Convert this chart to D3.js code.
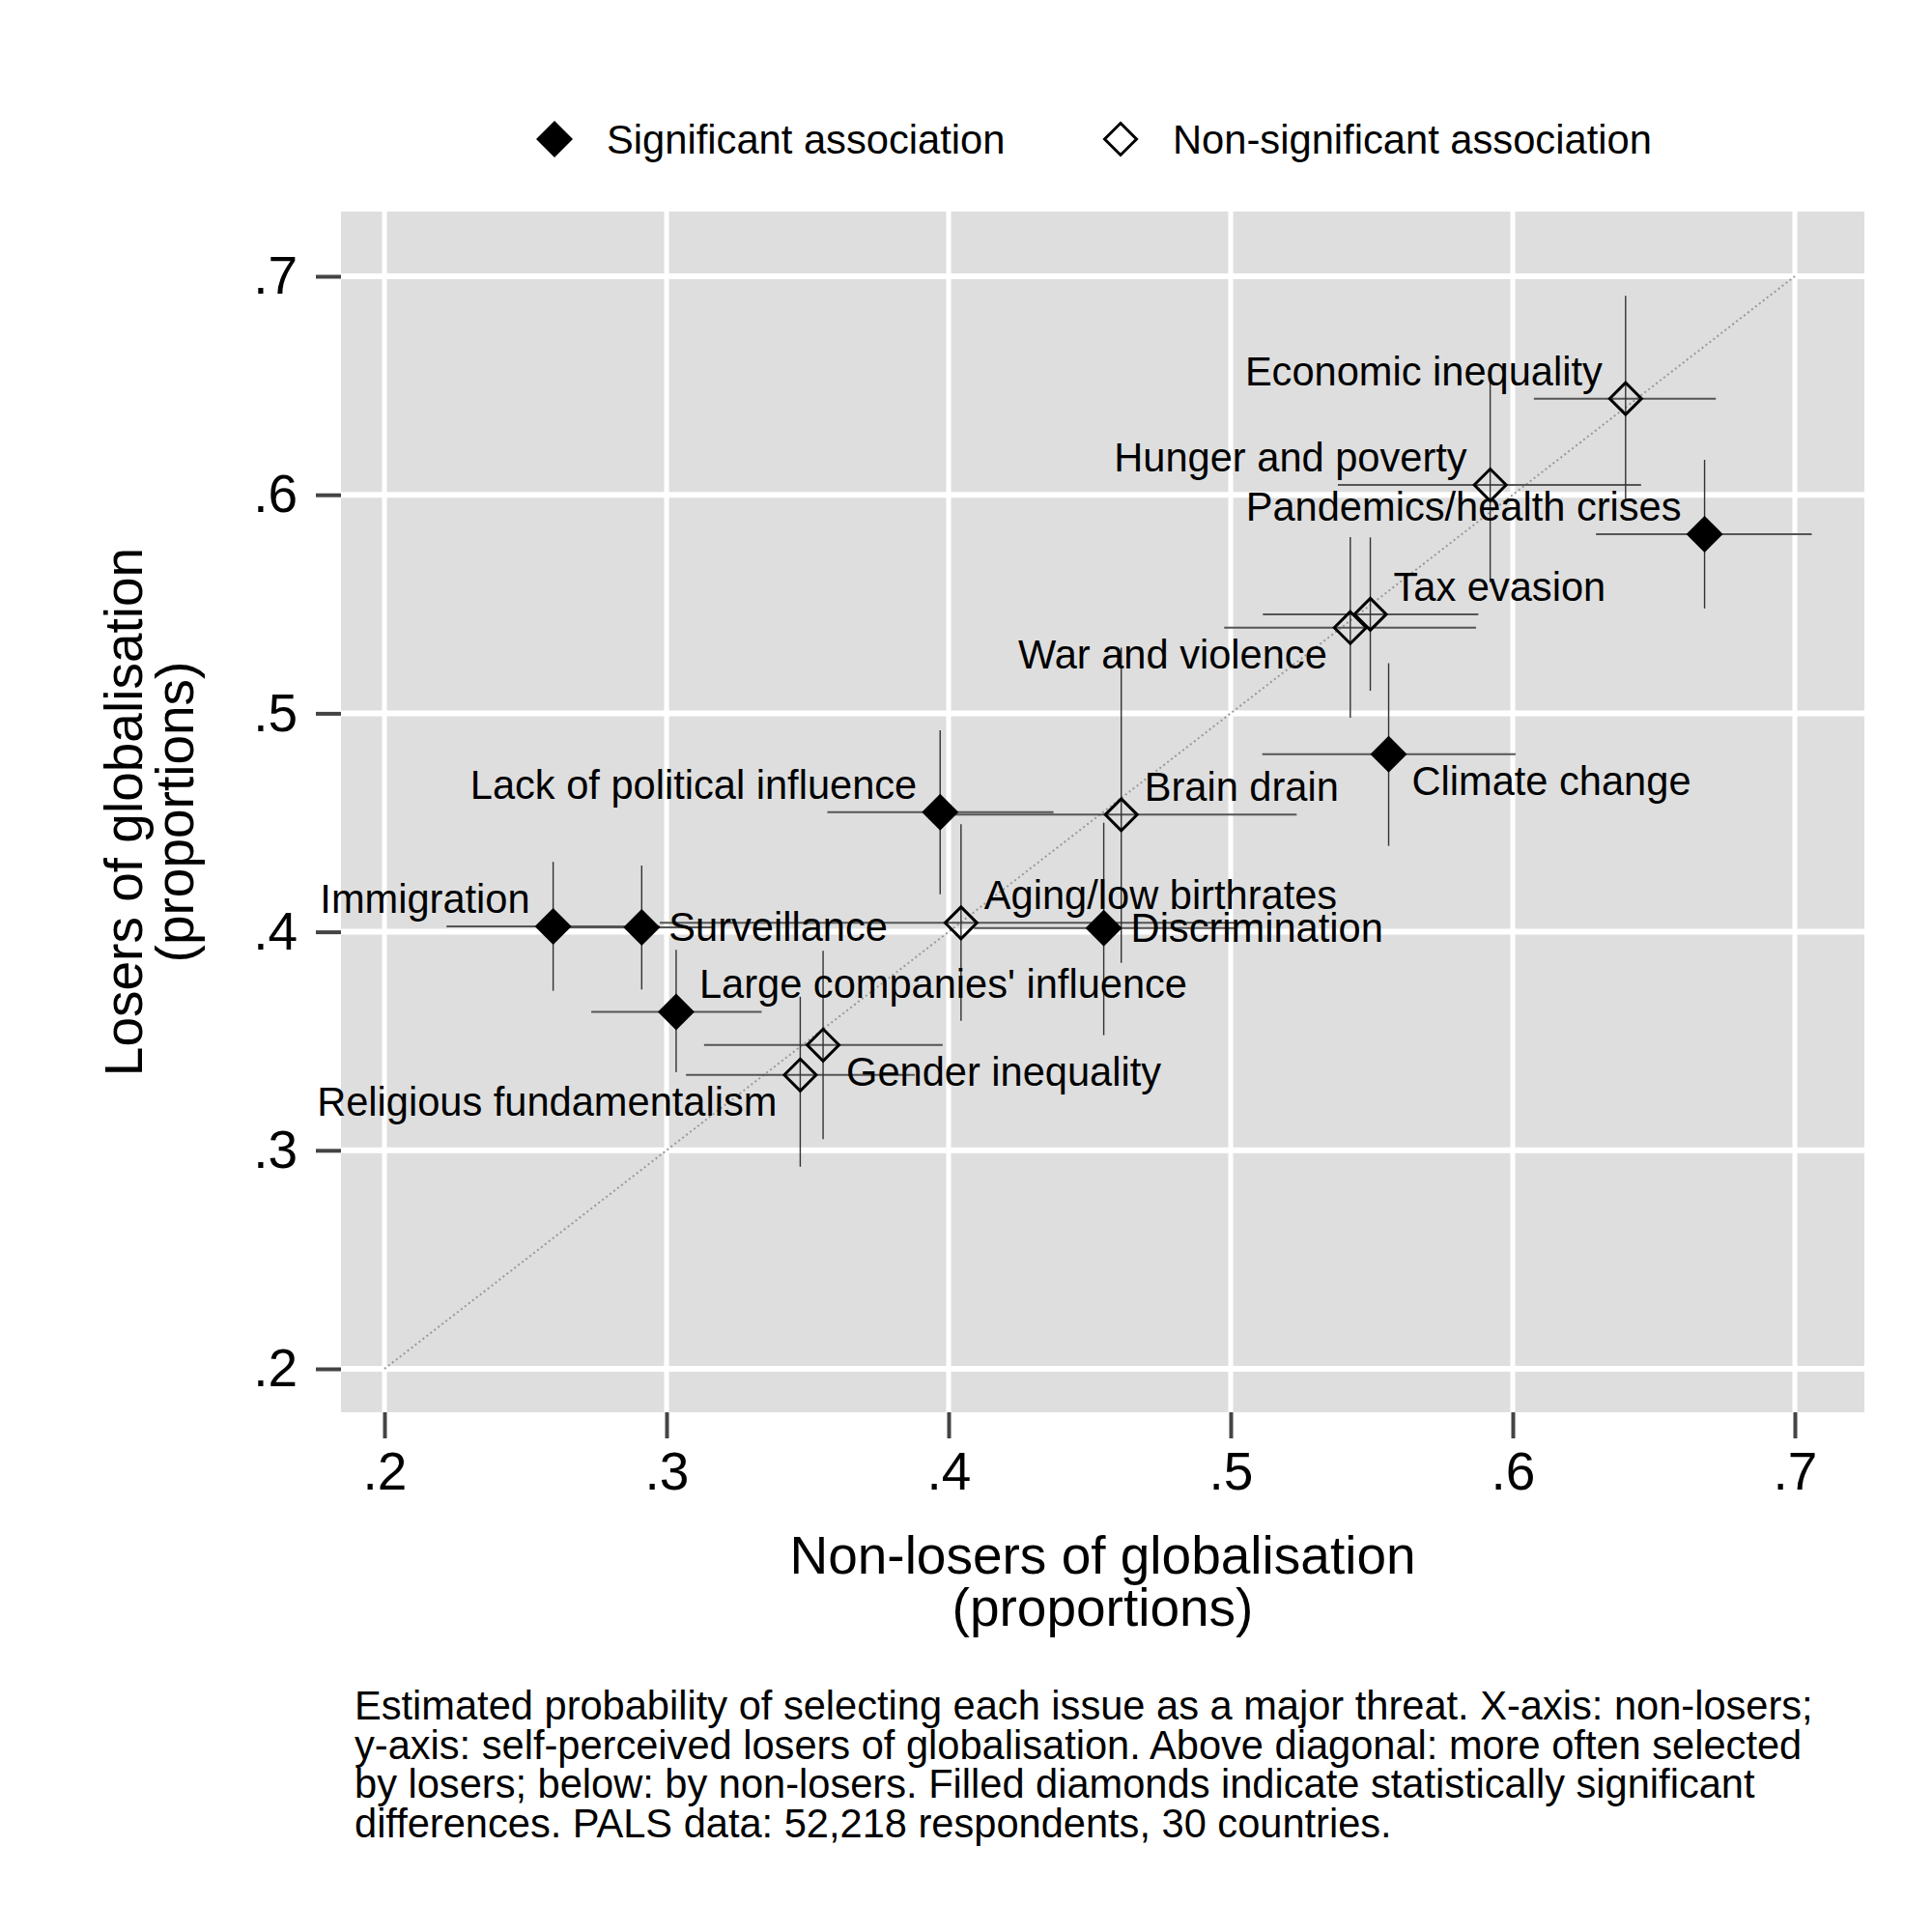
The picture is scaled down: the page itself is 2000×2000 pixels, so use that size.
<!DOCTYPE html>
<html>
<head>
<meta charset="utf-8">
<script src="https://cdn.jsdelivr.net/npm/d3@7"></script>
<style>
  body { margin: 0; background: #fff; }
  svg text { font-family: "Liberation Sans", Arial, Helvetica, sans-serif; fill: #000; }
</style>
</head>
<body>
<div id="grafica"></div>
<script>
'use strict'

//---------------------------Datos--------------------------------//
const issues = [
  'Economic inequality', 'Hunger and poverty', 'Pandemics/health crises', 'Tax evasion',
  'War and violence', 'Climate change', 'Lack of political influence', 'Brain drain',
  'Aging/low birthrates', 'Discrimination', 'Immigration', 'Surveillance',
  "Large companies' influence", 'Gender inequality', 'Religious fundamentalism'
];
// x: non-losers, y: losers (proportions)
const nonLosers = [0.640, 0.592, 0.668, 0.5495, 0.5424, 0.556, 0.397, 0.4612, 0.4044, 0.455, 0.2598, 0.2912, 0.3034, 0.3555, 0.3474];
const nonLosersLo = [0.6075, 0.538, 0.6295, 0.5114, 0.4977, 0.5112, 0.357, 0.399, 0.2976, 0.409, 0.222, 0.2656, 0.2733, 0.3133, 0.3069];
const nonLosersHi = [0.672, 0.6455, 0.706, 0.5878, 0.587, 0.601, 0.4372, 0.5234, 0.511, 0.5017, 0.2976, 0.3168, 0.3337, 0.3979, 0.388];
const losers = [0.644, 0.6045, 0.582, 0.5453, 0.5392, 0.4813, 0.4548, 0.4536, 0.4041, 0.4017, 0.4025, 0.402, 0.3634, 0.3482, 0.3345];
const losersLo = [0.598, 0.560, 0.548, 0.5103, 0.498, 0.4393, 0.4172, 0.3858, 0.3593, 0.3527, 0.373, 0.3736, 0.3357, 0.3051, 0.2925];
const losersHi = [0.691, 0.6525, 0.616, 0.5805, 0.5806, 0.5229, 0.4922, 0.53, 0.4492, 0.4499, 0.432, 0.4303, 0.3917, 0.3913, 0.3703];
const significant = [false, false, true, false, false, true, true, false, false, true, true, true, true, false, false];

const xTicks = [0.2, 0.3, 0.4, 0.5, 0.6, 0.7];
const yTicks = [0.2, 0.3, 0.4, 0.5, 0.6, 0.7];
const legendLabels = ['Significant association', 'Non-significant association'];
const xTitle = ['Non-losers of globalisation', '(proportions)'];
const yTitle = ['Losers of globalisation', '(proportions)'];
const nota = [
  'Estimated probability of selecting each issue as a major threat. X-axis: non-losers;',
  'y-axis: self-perceived losers of globalisation. Above diagonal: more often selected',
  'by losers; below: by non-losers. Filled diamonds indicate statistically significant',
  'differences. PALS data: 52,218 respondents, 30 countries.'
];

// posicion de la etiqueta (reloj, como en Stata)
const labelClock = {
  'Economic inequality': 10, 'Hunger and poverty': 10, 'Pandemics/health crises': 10,
  'Tax evasion': 2, 'War and violence': 8, 'Climate change': 4,
  'Lack of political influence': 10, 'Brain drain': 2, 'Aging/low birthrates': 2,
  'Discrimination': 3, 'Immigration': 10, 'Surveillance': 3,
  "Large companies' influence": 2, 'Gender inequality': 4, 'Religious fundamentalism': 8
};

//---------------------------Medidas--------------------------------//
const W = 2000, H = 2000;
const plot = { left: 353, right: 1930, top: 219, bottom: 1462 };

const x = d3.scaleLinear().domain([0.2, 0.7]).range([398, 1858]);
const y = d3.scaleLinear().domain([0.2, 0.7]).range([1417, 286]);

const fmt = d => d3.format('.1f')(d).replace(/^0/, '');

const svg = d3.select('#grafica').append('svg')
  .attr('width', W)
  .attr('height', H);

svg.append('rect').attr('width', W).attr('height', H).attr('fill', '#fff');

// fondo gris
svg.append('rect')
  .attr('x', plot.left).attr('y', plot.top)
  .attr('width', plot.right - plot.left)
  .attr('height', plot.bottom - plot.top)
  .attr('fill', '#dedede');

// rejilla
svg.append('g').selectAll('line').data(xTicks).join('line')
  .attr('x1', d => x(d)).attr('x2', d => x(d))
  .attr('y1', plot.top).attr('y2', plot.bottom)
  .attr('stroke', '#fff').attr('stroke-width', 5);

svg.append('g').selectAll('line').data(yTicks).join('line')
  .attr('x1', plot.left).attr('x2', plot.right)
  .attr('y1', d => y(d)).attr('y2', d => y(d))
  .attr('stroke', '#fff').attr('stroke-width', 6);

// diagonal
svg.append('line')
  .attr('x1', x(0.2)).attr('y1', y(0.2))
  .attr('x2', x(0.7)).attr('y2', y(0.7))
  .attr('stroke', '#999').attr('stroke-width', 2)
  .attr('stroke-dasharray', '2,3');

// ejes
const axisY = svg.append('g')
  .attr('transform', 'translate(' + plot.left + ',0)')
  .call(d3.axisLeft(y).tickValues(yTicks).tickFormat(fmt).tickSize(26).tickPadding(19));
const axisX = svg.append('g')
  .attr('transform', 'translate(0,' + plot.bottom + ')')
  .call(d3.axisBottom(x).tickValues(xTicks).tickFormat(fmt).tickSize(27).tickPadding(14));

[axisY, axisX].forEach(a => {
  a.select('.domain').remove();
  a.selectAll('.tick line').attr('stroke', '#444').attr('stroke-width', 4);
  a.selectAll('.tick text')
    .attr('fill', '#000')
    .style('font-size', '55px')
    .style('font-family', '"Liberation Sans", Arial, sans-serif');
});

// titulos de ejes
const tx = svg.append('text')
  .attr('text-anchor', 'middle')
  .style('font-size', '55px');
xTitle.forEach((t, i) => {
  tx.append('tspan').attr('x', (plot.left + plot.right) / 2).attr('y', 1629 + i * 54).text(t);
});

const ty = svg.append('text')
  .attr('text-anchor', 'middle')
  .attr('transform', 'translate(0,' + ((plot.top + plot.bottom) / 2) + ') rotate(-90)')
  .style('font-size', '55px');
yTitle.forEach((t, i) => {
  ty.append('tspan').attr('x', 0).attr('y', 147 + i * 53).text(t);
});

//---------------------------Puntos--------------------------------//
const diamond = {
  draw(ctx, size) {
    const r = Math.sqrt(size / 2);
    ctx.moveTo(0, -r);
    ctx.lineTo(r, 0);
    ctx.lineTo(0, r);
    ctx.lineTo(-r, 0);
    ctx.closePath();
  }
};
const filledPath = d3.symbol().type(diamond).size(2 * 19 * 19)();
const hollowPath = d3.symbol().type(diamond).size(2 * 16.5 * 16.5)();

const datos = issues.map((name, i) => ({
  name: name,
  x: nonLosers[i], xLo: nonLosersLo[i], xHi: nonLosersHi[i],
  y: losers[i], yLo: losersLo[i], yHi: losersHi[i],
  sig: significant[i]
}));

const ci = svg.append('g');
ci.selectAll('.hbar').data(datos).join('line')
  .attr('class', 'hbar')
  .attr('x1', d => x(d.xLo)).attr('x2', d => x(d.xHi))
  .attr('y1', d => y(d.y)).attr('y2', d => y(d.y))
  .attr('stroke', '#555').attr('stroke-width', 2);
ci.selectAll('.vbar').data(datos).join('line')
  .attr('class', 'vbar')
  .attr('x1', d => x(d.x)).attr('x2', d => x(d.x))
  .attr('y1', d => y(d.yLo)).attr('y2', d => y(d.yHi))
  .attr('stroke', '#333').attr('stroke-width', 1.4);

svg.append('g').selectAll('path').data(datos).join('path')
  .attr('transform', d => 'translate(' + x(d.x) + ',' + y(d.y) + ')')
  .attr('d', d => d.sig ? filledPath : hollowPath)
  .attr('fill', d => d.sig ? '#000' : 'none')
  .attr('stroke', '#000')
  .attr('stroke-width', d => d.sig ? 0 : 3);

// etiquetas
const offsets = {
  10: { anchor: 'end', dx: -24, dy: -14 },
  2: { anchor: 'start', dx: 24, dy: -14 },
  8: { anchor: 'end', dx: -24, dy: 42 },
  4: { anchor: 'start', dx: 24, dy: 42 },
  3: { anchor: 'start', dx: 28, dy: 14 }
};
svg.append('g').selectAll('text').data(datos).join('text')
  .attr('x', d => x(d.x) + offsets[labelClock[d.name]].dx)
  .attr('y', d => y(d.y) + offsets[labelClock[d.name]].dy)
  .attr('text-anchor', d => offsets[labelClock[d.name]].anchor)
  .style('font-size', '41.6px')
  .text(d => d.name);

//---------------------------Leyenda--------------------------------//
const leyenda = svg.append('g');
const legX = [574, 1160];
legendLabels.forEach((t, i) => {
  leyenda.append('path')
    .attr('transform', 'translate(' + legX[i] + ',144)')
    .attr('d', i === 0 ? filledPath : hollowPath)
    .attr('fill', i === 0 ? '#000' : 'none')
    .attr('stroke', '#000')
    .attr('stroke-width', i === 0 ? 0 : 3);
  leyenda.append('text')
    .attr('x', legX[i] + 54).attr('y', 159)
    .style('font-size', '41.7px')
    .text(t);
});

//---------------------------Nota--------------------------------//
const nt = svg.append('text').style('font-size', '41.6px');
nota.forEach((t, i) => {
  nt.append('tspan').attr('x', 367).attr('y', 1780 + i * 40.5).text(t);
});
</script>
</body>
</html>
